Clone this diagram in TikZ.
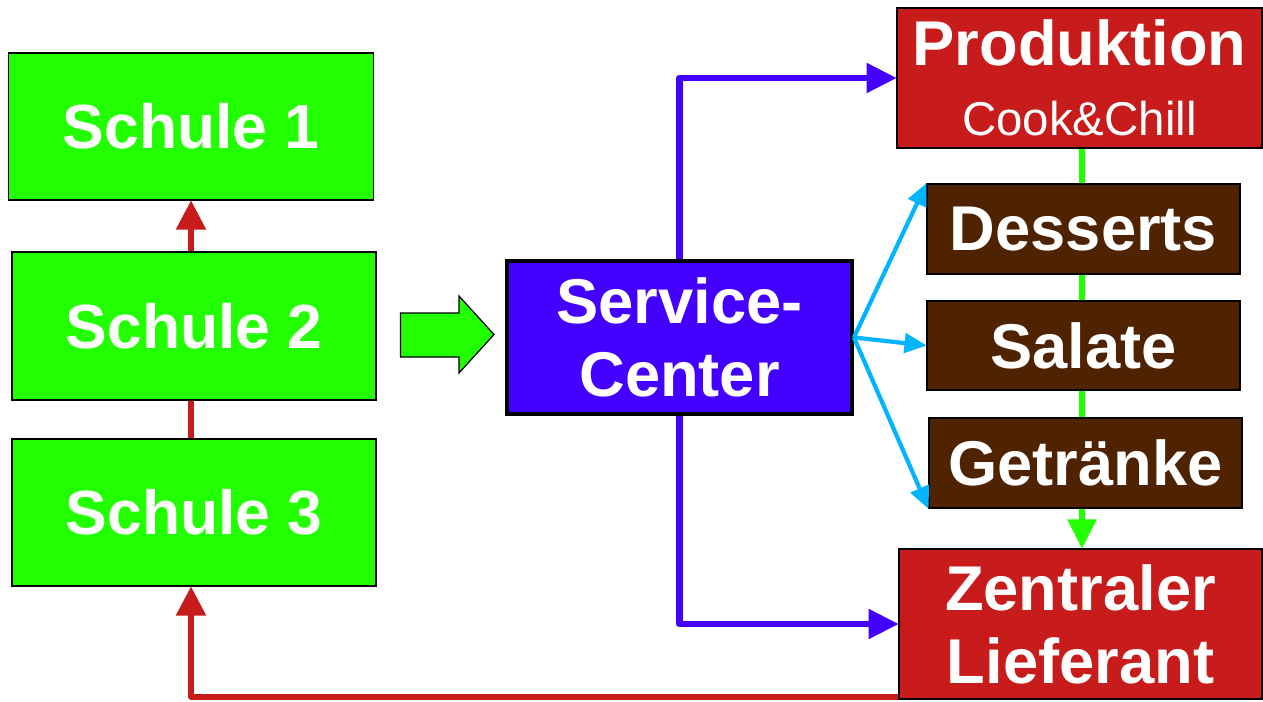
\documentclass[tikz,border=0pt]{standalone}
\usepackage{fontspec}
\setmainfont{Liberation Sans}
\usetikzlibrary{arrows.meta,calc}
\definecolor{boxgreen}{RGB}{34,255,0}
\definecolor{boxblue}{RGB}{68,0,255}
\definecolor{boxred}{RGB}{200,28,28}
\definecolor{boxbrown}{RGB}{79,35,0}
\definecolor{skyline}{RGB}{0,180,255}
\tikzset{
  box/.style={rectangle, draw=black, line width=0.7pt, inner sep=0pt, text=white, align=center},
  schule/.style={box, fill=boxgreen, font=\fontsize{35.5}{40}\selectfont\bfseries},
  centerbox/.style={box, fill=boxblue, line width=2.2pt, font=\fontsize{36}{41.5}\selectfont\bfseries},
  redbox/.style={box, fill=boxred, font=\fontsize{36}{41.5}\selectfont\bfseries},
  brownbox/.style={box, fill=boxbrown, font=\fontsize{36}{41}\selectfont\bfseries},
  redline/.style={draw=boxred, line width=3.4pt, line join=round},
  redtip/.style={redline, -{Triangle[length=16.5pt 0 0,width=17pt 0 0,line width=1.5pt]}},
  blueline/.style={draw=boxblue, line width=3.8pt, line join=round, -{Triangle[length=17pt 0 0,width=17pt 0 0,line width=1.5pt]}},
  skyarrow/.style={draw=skyline, line width=2.4pt, -{Triangle[length=12.5pt 0 0,width=11.5pt 0 0,line width=1pt]}},
  greenarrow/.style={draw=boxgreen, line width=3.8pt, -{Triangle[length=16.5pt 0 0,width=16.5pt 0 0,line width=1.5pt]}},
  blockarrow/.style={fill=boxgreen, draw=black, line width=0.7pt, line join=miter}
}
\begin{document}
\begin{tikzpicture}[x=0.02cm,y=-0.02cm]
\useasboundingbox (0,0) rectangle (1263,702);
% left column
\node[schule, minimum width=7.3cm, minimum height=2.94cm] (S1) at (191,126.5) {Schule 1};
\node[schule, minimum width=7.28cm, minimum height=2.96cm] (S2) at (194,326) {Schule 2};
\node[schule, minimum width=7.28cm, minimum height=2.94cm] (S3) at (194,512.5) {Schule 3};
% service center
\node[centerbox, minimum width=6.9cm, minimum height=3.06cm] (SC) at (679.5,337.5) {Service-\\Center};
% right column
\node[redbox, minimum width=7.3cm, minimum height=2.8cm] (P) at (1079.5,78)
  {Produktion\\[-2pt]{\fontsize{27}{32}\selectfont\mdseries Cook\&Chill}};
\node[redbox, minimum width=7.26cm, minimum height=3.0cm] (Z) at (1080.5,624) {Zentraler\\Lieferant};
% green flow behind brown boxes
\draw[greenarrow] ($(P.south)+(2.5,0)$) -- ($(P.south |- Z.north)+(2.5,0)$);
\node[brownbox, minimum width=6.26cm, minimum height=1.8cm] (D) at (1083.5,229) {Desserts};
\node[brownbox, minimum width=6.26cm, minimum height=1.78cm] (Sa) at (1083.5,345.5) {Salate};
\node[brownbox, minimum width=6.26cm, minimum height=1.8cm] (G) at (1085.5,463) {Getränke};
% block arrow
\filldraw[blockarrow] (400.5,313) -- (459,313) -- (459,296) -- (494,334.5) -- (459,373) -- (459,357) -- (400.5,357) -- cycle;
% red connectors
\draw[redtip] (S1.south |- S2.north) -- (S1.south);
\draw[redline] (S1.south |- S3.north) -- (S1.south |- S2.south);
\draw[redtip] ($(Z.south west)+(0,-3)$) -- (S1.south |- {$(Z.south west)+(0,-3)$}) -- (S1.south |- S3.south);
% blue connectors
\draw[blueline] (SC.north) -- (SC.north |- P.west) -- (P.west);
\draw[blueline] (SC.south) -- (SC.south |- Z.west) -- (Z.west);
% sky-blue arrows
\draw[skyarrow] (SC.east) -- (D.north west);
\draw[skyarrow] (SC.east) -- (Sa.west);
\draw[skyarrow] (SC.east) -- (G.south west);
\end{tikzpicture}
\end{document}
